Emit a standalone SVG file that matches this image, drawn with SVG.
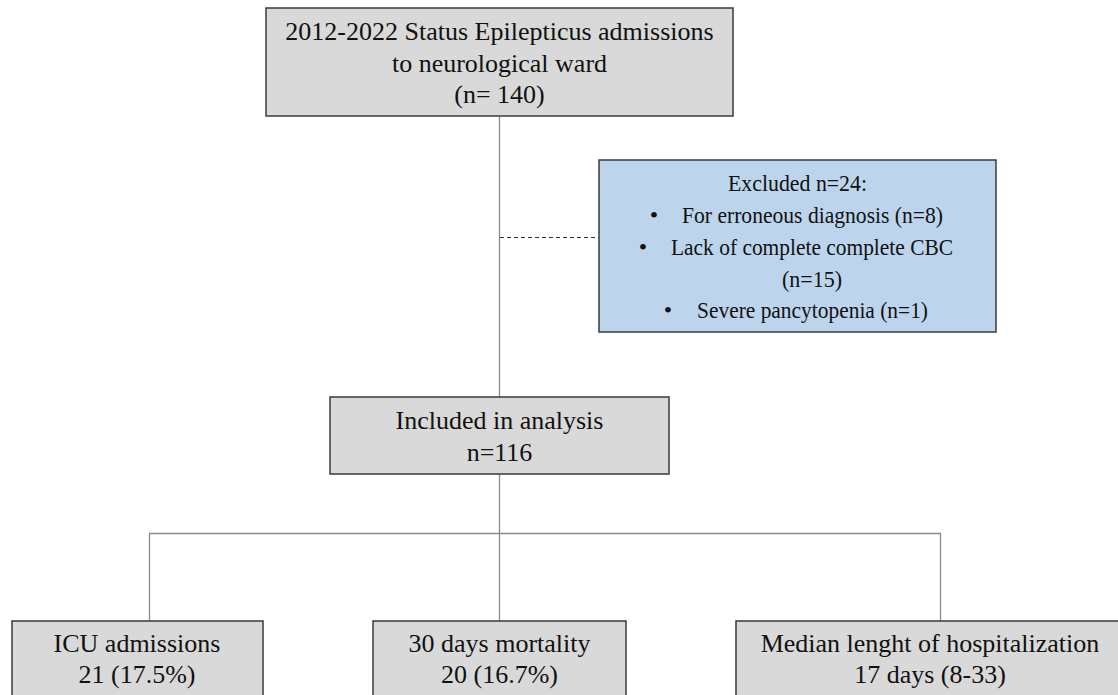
<svg xmlns="http://www.w3.org/2000/svg" width="1118" height="695" viewBox="0 0 1118 695">
<style>
.box{fill:#d9d9d9;stroke:#3a3a3a;stroke-width:1.5}
.blue{fill:#bcd5ed;stroke:#3a3a3a;stroke-width:1.5}
.t{font-family:"Liberation Serif","Times New Roman",serif;font-size:26px;fill:#111;text-anchor:middle}
.s{font-family:"Liberation Serif","Times New Roman",serif;font-size:24px;fill:#111;text-anchor:middle}
.ln{fill:none;stroke:#8a8a8a;stroke-width:1.3}
.dash{fill:none;stroke:#333;stroke-width:1.2;stroke-dasharray:4 3}
</style>
<rect width="1118" height="695" fill="#fff"/>
<g id="connectors">
<line class="ln" x1="499.5" y1="116" x2="499.5" y2="397"/>
<line class="dash" x1="500" y1="237.5" x2="599" y2="237.5"/>
<line class="ln" x1="499.5" y1="474" x2="499.5" y2="621"/>
<polyline class="ln" points="149.5,621 149.5,533.5 940.5,533.5 940.5,621"/>
</g>
<g id="n_top">
<rect class="box" x="266" y="8" width="467" height="108"/>
<text class="t" x="499.5" y="40">2012-2022 Status Epilepticus admissions</text>
<text class="t" x="499.5" y="72">to neurological ward</text>
<text class="t" x="499.5" y="103">(n= 140)</text>
</g>
<g id="n_excluded">
<rect class="blue" x="599" y="160" width="397" height="172"/>
<text class="s" x="797.5" y="191" textLength="139" lengthAdjust="spacingAndGlyphs">Excluded n=24:</text>
<text class="s" x="654" y="223">•</text>
<text class="s" x="812.5" y="223" textLength="261" lengthAdjust="spacingAndGlyphs">For erroneous diagnosis (n=8)</text>
<text class="s" x="643" y="255">•</text>
<text class="s" x="812" y="255" textLength="282" lengthAdjust="spacingAndGlyphs">Lack of complete complete CBC</text>
<text class="s" x="812" y="287" textLength="60" lengthAdjust="spacingAndGlyphs">(n=15)</text>
<text class="s" x="668" y="318">•</text>
<text class="s" x="812.5" y="318" textLength="231" lengthAdjust="spacingAndGlyphs">Severe pancytopenia (n=1)</text>
</g>
<g id="n_included">
<rect class="box" x="330" y="397" width="339" height="77"/>
<text class="t" x="499.5" y="429">Included in analysis</text>
<text class="t" x="499.5" y="461">n=116</text>
</g>
<g id="n_icu">
<rect class="box" x="12" y="621" width="251" height="90"/>
<text class="t" x="137" y="652">ICU admissions</text>
<text class="t" x="137" y="683">21 (17.5%)</text>
</g>
<g id="n_mortality">
<rect class="box" x="373" y="621" width="253" height="90"/>
<text class="t" x="499.5" y="652">30 days mortality</text>
<text class="t" x="499.5" y="683">20 (16.7%)</text>
</g>
<g id="n_los">
<rect class="box" x="736" y="621" width="390" height="90"/>
<text class="t" x="930" y="652">Median lenght of hospitalization</text>
<text class="t" x="930" y="683">17 days (8-33)</text>
</g>
</svg>
